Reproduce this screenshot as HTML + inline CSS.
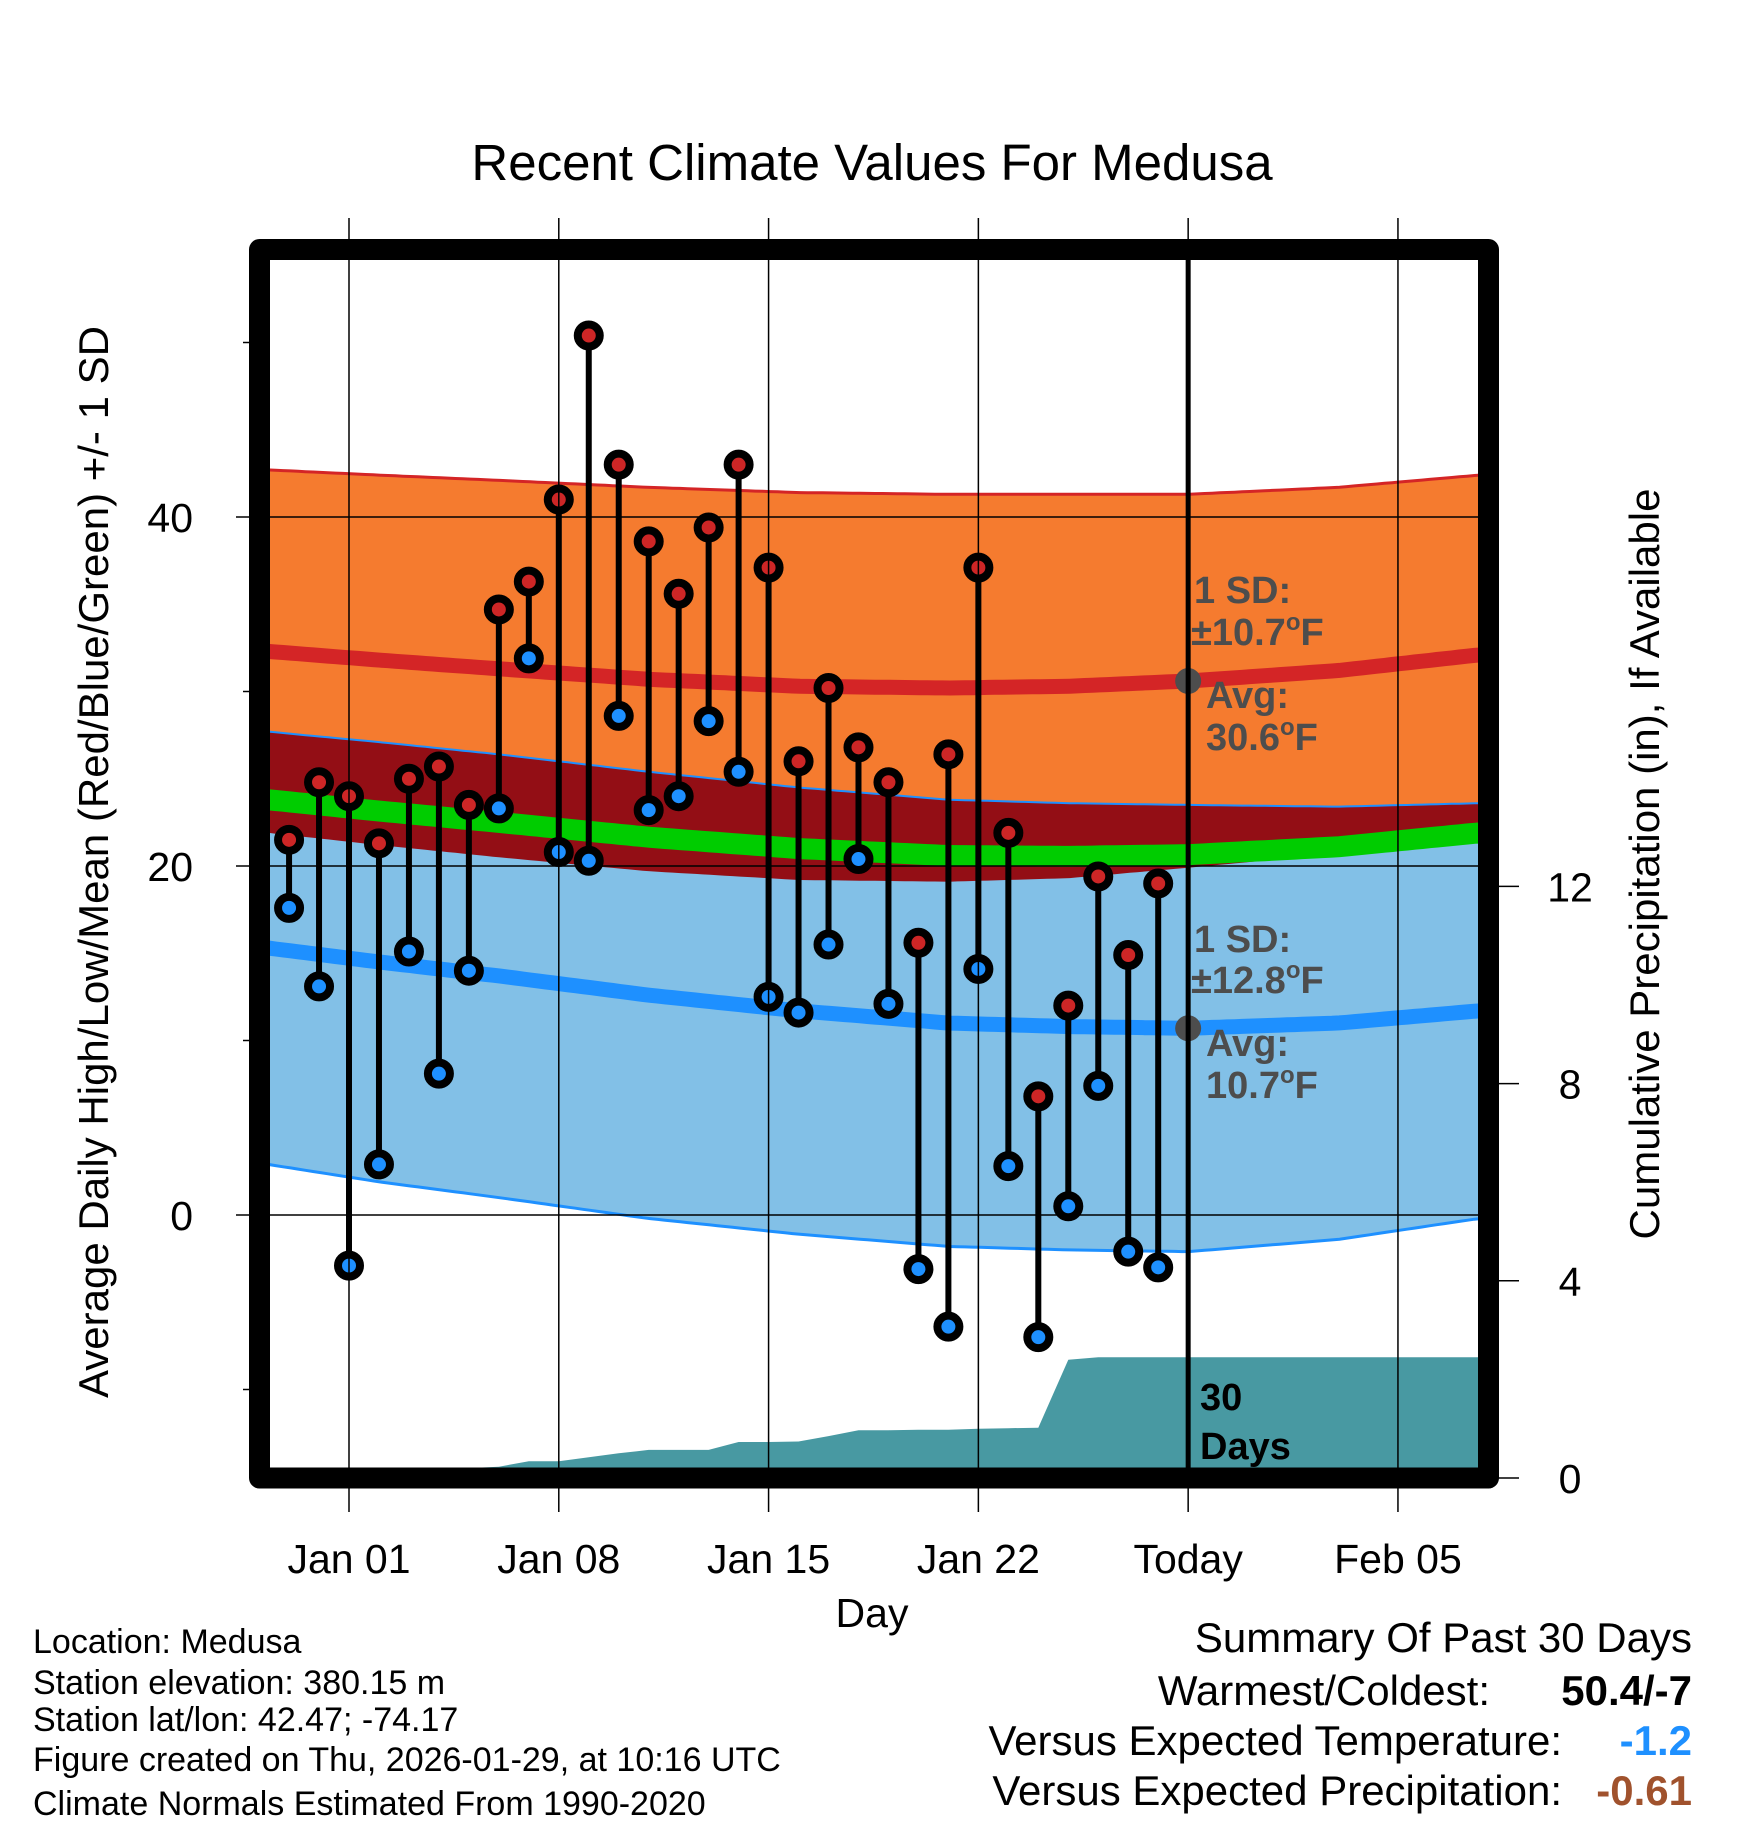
<!DOCTYPE html>
<html><head><meta charset="utf-8"><title>Recent Climate Values For Medusa</title>
<style>
html,body{margin:0;padding:0;background:#fff}
svg{display:block;font-family:"Liberation Sans",Arial,sans-serif}
</style></head>
<body>
<svg id="chart" xmlns="http://www.w3.org/2000/svg" width="1748" height="1828" viewBox="0 0 1748 1828">
<defs><clipPath id="plotclip"><rect x="270" y="260" width="1208" height="1208"/></clipPath></defs>
<text x="872" y="180" font-size="51" text-anchor="middle">Recent Climate Values For Medusa</text>
<g id="plot" clip-path="url(#plotclip)"></g>
<g id="axes"></g>
<rect x="259.5" y="249.5" width="1229" height="1228.5" fill="none" stroke="#000" stroke-width="21" stroke-linejoin="round"/>
<text x="872" y="1627" font-size="41" text-anchor="middle">Day</text>
<text transform="translate(108,862) rotate(-90)" font-size="42" text-anchor="middle">Average Daily High/Low/Mean (Red/Blue/Green) +/- 1 SD</text>
<text transform="translate(1659,864) rotate(-90)" font-size="42" text-anchor="middle">Cumulative Precipitation (in), If Available</text>
<g font-size="34">
<text x="33" y="1653">Location: Medusa</text>
<text x="33" y="1694">Station elevation: 380.15 m</text>
<text x="33" y="1731">Station lat/lon: 42.47; -74.17</text>
<text x="33" y="1771">Figure created on Thu, 2026-01-29, at 10:16 UTC</text>
<text x="33" y="1815">Climate Normals Estimated From 1990-2020</text>
</g>
<g font-size="42" text-anchor="end">
<text x="1692" y="1652">Summary Of Past 30 Days</text>
<text x="1490" y="1705">Warmest/Coldest:</text>
<text x="1692" y="1705" font-weight="bold">50.4/-7</text>
<text x="1562" y="1755">Versus Expected Temperature:</text>
<text x="1692" y="1755" font-weight="bold" fill="#1e90ff">-1.2</text>
<text x="1562" y="1805">Versus Expected Precipitation:</text>
<text x="1692" y="1805" font-weight="bold" fill="#a0522d">-0.61</text>
</g>
</svg>
<script>
// ---- data ----
const dayOffsets = [-2,-1,0,1,2,3,4,5,6,7,8,9,10,11,12,13,14,15,16,17,18,19,20,21,22,23,24,25,26,27];
const highs = [21.5,24.8,24.0,21.3,25.0,25.7,23.5,34.7,36.3,41.0,50.4,43.0,38.6,35.6,39.4,43.0,37.1,26.0,30.2,26.8,24.8,15.6,26.4,37.1,21.9,6.8,12.0,19.4,14.9,19.0];
const lows = [17.6,13.1,-2.9,2.9,15.1,8.1,14.0,23.3,31.9,20.8,20.3,28.6,23.2,24.0,28.3,25.4,12.5,11.6,15.5,20.4,12.1,-3.1,-6.4,14.1,2.8,-7.0,0.5,7.4,-2.1,-3.0];
const precipCum = [0,0,0,0,0,0.1,0.2,0.23,0.34,0.34,0.42,0.5,0.57,0.57,0.57,0.73,0.73,0.74,0.85,0.97,0.97,0.98,0.98,1.0,1.01,1.02,2.40,2.45,2.45,2.45];
const normalDays = [-2.7,1,5,10,15,20,24,28,33,37.7];
const highAvg = [32.3,31.8,31.3,30.7,30.3,30.2,30.3,30.6,31.2,32.1];
const highSD = [10.4,10.6,10.8,11.0,11.1,11.1,11.0,10.7,10.5,10.3];
const lowAvg = [15.3,14.5,13.7,12.6,11.7,11.0,10.8,10.7,11.0,11.7];
const lowSD = [12.4,12.6,12.7,12.8,12.8,12.8,12.8,12.8,12.4,11.9];
const xTickDays = [0,7,14,21,28,35];
const xTickLabels = ["Jan 01","Jan 08","Jan 15","Jan 22","Today","Feb 05"];
const yTicks = [0,20,40];
const yMinor = [-10,10,30,50];
const pTicks = [0,4,8,12];
const todayDay = 28;

// ---- scales ----
const xS = d => 349 + d*29.97;
const yS = t => 1215 - t*17.45;
const pS = p => 1478 - p*49.3;
const NS = 'http://www.w3.org/2000/svg';
const plot = document.getElementById('plot');
const axes = document.getElementById('axes');
function mk(tag, attrs, parent){const e=document.createElementNS(NS,tag);for(const k in attrs)e.setAttribute(k,attrs[k]);parent.appendChild(e);return e;}
function interp(arr,d){
  if(d<=normalDays[0])return arr[0];
  for(let i=0;i<normalDays.length-1;i++){
    if(d<=normalDays[i+1]){const t=(d-normalDays[i])/(normalDays[i+1]-normalDays[i]);return arr[i]+(arr[i+1]-arr[i])*t;}
  }
  return arr[arr.length-1];
}
const samp=[];for(let d=-2.7;d<=37.8;d+=0.25)samp.push(d);
const line=f=>samp.map(d=>xS(d).toFixed(1)+','+yS(f(d)).toFixed(1)).join(' ');
const band=(f1,f2)=>'M'+samp.map(d=>xS(d).toFixed(1)+','+yS(f1(d)).toFixed(1)).join(' L')+' L'+samp.slice().reverse().map(d=>xS(d).toFixed(1)+','+yS(f2(d)).toFixed(1)).join(' L')+'Z';
const hA=d=>interp(highAvg,d), lA=d=>interp(lowAvg,d);
const hU=d=>hA(d)+interp(highSD,d), hL=d=>hA(d)-interp(highSD,d), lU=d=>lA(d)+interp(lowSD,d), lL=d=>lA(d)-interp(lowSD,d), mA=d=>(hA(d)+lA(d))/2;

let e;
e=mk('path',{d:band(hU,hL),fill:'#f57b2f'},plot);


e=mk('path',{d:band(lU,lL),fill:'#82c0e7'},plot);


e=mk('path',{d:band(lU,hL),fill:'#930e15'},plot);


e=mk('polyline',{points:line(hU),fill:'none',stroke:'#d42526','stroke-width':3},plot);


e=mk('polyline',{points:line(lU),fill:'none',stroke:'#1e90ff','stroke-width':2},plot);


e=mk('polyline',{points:line(lL),fill:'none',stroke:'#1e90ff','stroke-width':3},plot);


e=mk('polyline',{points:line(mA),fill:'none',stroke:'#00cc00','stroke-width':21},plot);


e=mk('polyline',{points:line(hA),fill:'none',stroke:'#d42526','stroke-width':15},plot);


e=mk('polyline',{points:line(lA),fill:'none',stroke:'#1e90ff','stroke-width':15},plot);



// precip
let pd='M'+xS(dayOffsets[0])+','+pS(0);
dayOffsets.forEach((d,i)=>{pd+=' L'+xS(d).toFixed(1)+','+pS(precipCum[i]).toFixed(1);});
pd+=' L1480,'+pS(precipCum[precipCum.length-1]).toFixed(1)+' L1480,'+pS(0)+'Z';
e=mk('path',{d:pd,fill:'#4899a2'},plot);



// gridlines
yTicks.forEach(t=>{
  e=mk('line',{x1:230,x2:1480,y1:yS(t),y2:yS(t),stroke:'#000','stroke-width':1.5},plot);
  
  
});
xTickDays.forEach((d,i)=>{
  e=mk('line',{x1:xS(d),x2:xS(d),y1:218,y2:1512,stroke:'#000','stroke-width':1.5},axes);
  
  
  e=mk('text',{x:xS(d),y:1573,'font-size':41,'text-anchor':'middle'},axes);
  e.textContent=xTickLabels[i];
  
  
});
// today line
e=mk('line',{x1:xS(todayDay),x2:xS(todayDay),y1:255,y2:1475,stroke:'#000','stroke-width':5},axes);



yTicks.forEach(t=>{
  e=mk('line',{x1:236,x2:250,y1:yS(t),y2:yS(t),stroke:'#000','stroke-width':1.5},axes);
  
  
  e=mk('text',{x:193,y:yS(t)+15,'font-size':41,'text-anchor':'end'},axes);
  e.textContent=t;
  
  
});
yMinor.forEach(t=>{
  e=mk('line',{x1:243,x2:250,y1:yS(t),y2:yS(t),stroke:'#000','stroke-width':1.5},axes);
  
  
});
pTicks.forEach(p=>{
  e=mk('line',{x1:1495,x2:1519,y1:pS(p),y2:pS(p),stroke:'#000','stroke-width':1.5},axes);
  
  
  e=mk('text',{x:1570,y:pS(p)+15,'font-size':41,'text-anchor':'middle'},axes);
  e.textContent=p;
  
  
});

// daily bars and dots
dayOffsets.forEach((d,i)=>{
  e=mk('line',{x1:xS(d),x2:xS(d),y1:yS(highs[i]),y2:yS(lows[i]),stroke:'#000','stroke-width':6},plot);
  
  
});
dayOffsets.forEach((d,i)=>{
  e=mk('circle',{cx:xS(d),cy:yS(highs[i]),r:11,fill:'#cd2626',stroke:'#000','stroke-width':8},plot);
  
  
  e=mk('circle',{cx:xS(d),cy:yS(lows[i]),r:11,fill:'#1e90ff',stroke:'#000','stroke-width':8},plot);
  
  
});

// today markers
e=mk('circle',{cx:xS(todayDay),cy:yS(hA(todayDay)),r:13,fill:'#4d4d4d'},plot);


e=mk('circle',{cx:xS(todayDay),cy:yS(lA(todayDay)),r:13,fill:'#4d4d4d'},plot);



function ann(x,y,txt,deg,name){
  const t=mk('text',{x:x,y:y,'font-size':38,'font-weight':'bold',fill:'#4d4d4d'},plot);
  
  
  t.appendChild(document.createTextNode(txt));
  if(deg){
    const s=document.createElementNS(NS,'tspan');s.setAttribute('font-size','24');s.setAttribute('dy','-15');s.textContent='o';t.appendChild(s);
    const f=document.createElementNS(NS,'tspan');f.setAttribute('dy','15');f.textContent='F';t.appendChild(f);
  }
}
ann(1194,603,'1 SD:',false,'high-sd-label');
ann(1191,645,'±10.7',true,'high-sd-value');
ann(1206,708,'Avg:',false,'high-avg-label');
ann(1206,750,'30.6',true,'high-avg-value');
ann(1194,952,'1 SD:',false,'low-sd-label');
ann(1191,993,'±12.8',true,'low-sd-value');
ann(1206,1056,'Avg:',false,'low-avg-label');
ann(1206,1098,'10.7',true,'low-avg-value');

e=mk('text',{x:1200,y:1410,'font-size':38,'font-weight':'bold'},plot);
e.textContent='30';


e=mk('text',{x:1200,y:1459,'font-size':38,'font-weight':'bold'},plot);
e.textContent='Days';


</script>
</body></html>
